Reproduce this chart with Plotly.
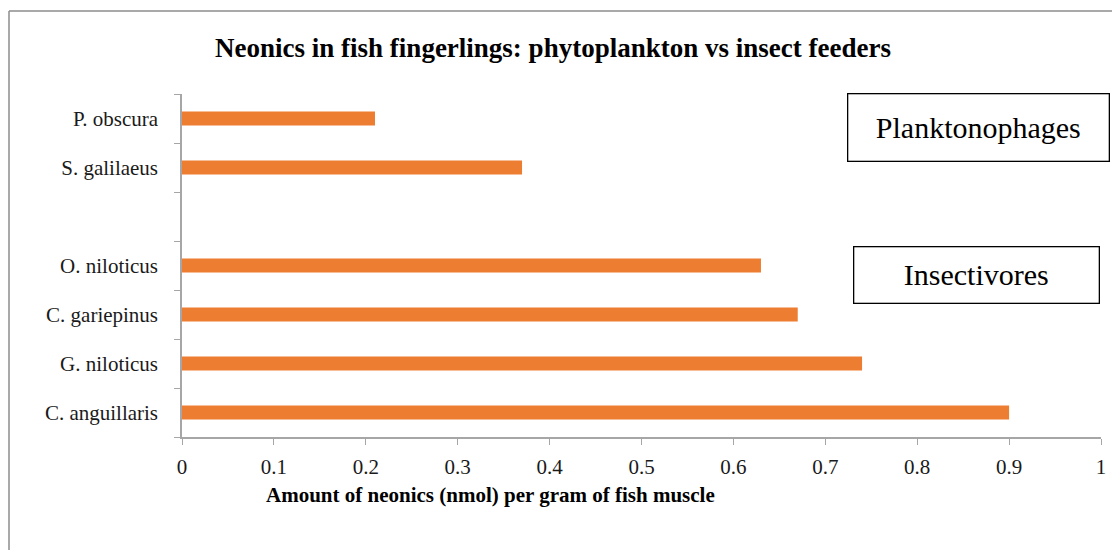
import plotly.graph_objects as go

categories = ["C. anguillaris", "G. niloticus", "C. gariepinus", "O. niloticus", " ", "S. galilaeus", "P. obscura"]
values = [0.90, 0.74, 0.67, 0.63, None, 0.37, 0.21]
x_ticks = [0, 0.1, 0.2, 0.3, 0.4, 0.5, 0.6, 0.7, 0.8, 0.9, 1]
x_tick_labels = ["0", "0.1", "0.2", "0.3", "0.4", "0.5", "0.6", "0.7", "0.8", "0.9", "1"]

FONT = "Book Antiqua, Palatino Linotype, Palatino, Liberation Serif, serif"
AX = "#a6a6a6"

# page has an 8px body margin; figure placed at (8, 8)
OFF = 8
W, H = 1120 - OFF, 550 - OFF
PL, PR, PT, PB = 182, 1101, 94, 437  # plot area in page pixels


def px(x):
    return (x - PL) / (PR - PL)


def py(y):
    return (PB - y) / (PB - PT)


fig = go.Figure(go.Bar(
    y=categories, x=values, orientation="h",
    marker=dict(color="#ED7D31", line=dict(width=0)),
    width=0.29,
))

fig.update_layout(
    width=W, height=H,
    margin=dict(l=PL - OFF, r=W - (PR - OFF), t=PT - OFF, b=H - (PB - OFF), pad=0),
    paper_bgcolor="white", plot_bgcolor="white",
    font=dict(family=FONT, size=21, color="#1a1a1a"),
    showlegend=False,
    title=dict(text="<b>Neonics in fish fingerlings: phytoplankton vs insect feeders</b>",
               x=(553 - OFF) / W, xref="container", xanchor="center",
               y=1 - (48 - OFF) / H, yref="container", yanchor="middle",
               font=dict(family=FONT, size=27, color="#000")),
    xaxis=dict(range=[0, 1], tickvals=x_ticks, ticktext=x_tick_labels,
               showgrid=False, zeroline=False, showline=True, linecolor=AX, linewidth=1.5,
               ticks="outside", ticklen=6, tickcolor=AX, tickfont=dict(size=21),
               ticklabelstandoff=4),
    yaxis=dict(type="category", categoryorder="array", categoryarray=categories,
               tickson="boundaries", showgrid=False, zeroline=False, showline=True,
               linecolor=AX, linewidth=1.5, ticks="outside", ticklen=6, tickcolor=AX,
               tickfont=dict(size=21), range=[-0.5, 6.5], ticklabelstandoff=18),
    annotations=[
        dict(text="<b>Amount of neonics (nmol) per gram of fish muscle</b>",
             xref="paper", yref="paper", x=px(490), y=py(495),
             xanchor="center", yanchor="middle", showarrow=False,
             font=dict(family=FONT, size=21, color="#000")),
        dict(text="Planktonophages", xref="paper", yref="paper",
             x=px(978), y=py(127), xanchor="center", yanchor="middle",
             showarrow=False, width=258, height=64, borderpad=1,
             bordercolor="#000", borderwidth=1.3, bgcolor="white",
             font=dict(family=FONT, size=30, color="#000")),
        dict(text="Insectivores", xref="paper", yref="paper",
             x=px(976), y=py(274.5), xanchor="center", yanchor="middle",
             showarrow=False, width=242, height=53, borderpad=1,
             bordercolor="#000", borderwidth=1.3, bgcolor="white",
             font=dict(family=FONT, size=30, color="#000")),
    ],
    shapes=[
        dict(type="line", xref="paper", yref="paper",
             x0=px(9), x1=px(1130), y0=py(11), y1=py(11),
             line=dict(color="#8c8c8c", width=1.5)),
        dict(type="line", xref="paper", yref="paper",
             x0=px(9), x1=px(9), y0=py(11), y1=py(560),
             line=dict(color="#8c8c8c", width=1.5)),
    ],
)

fig.write_html("out.html")
